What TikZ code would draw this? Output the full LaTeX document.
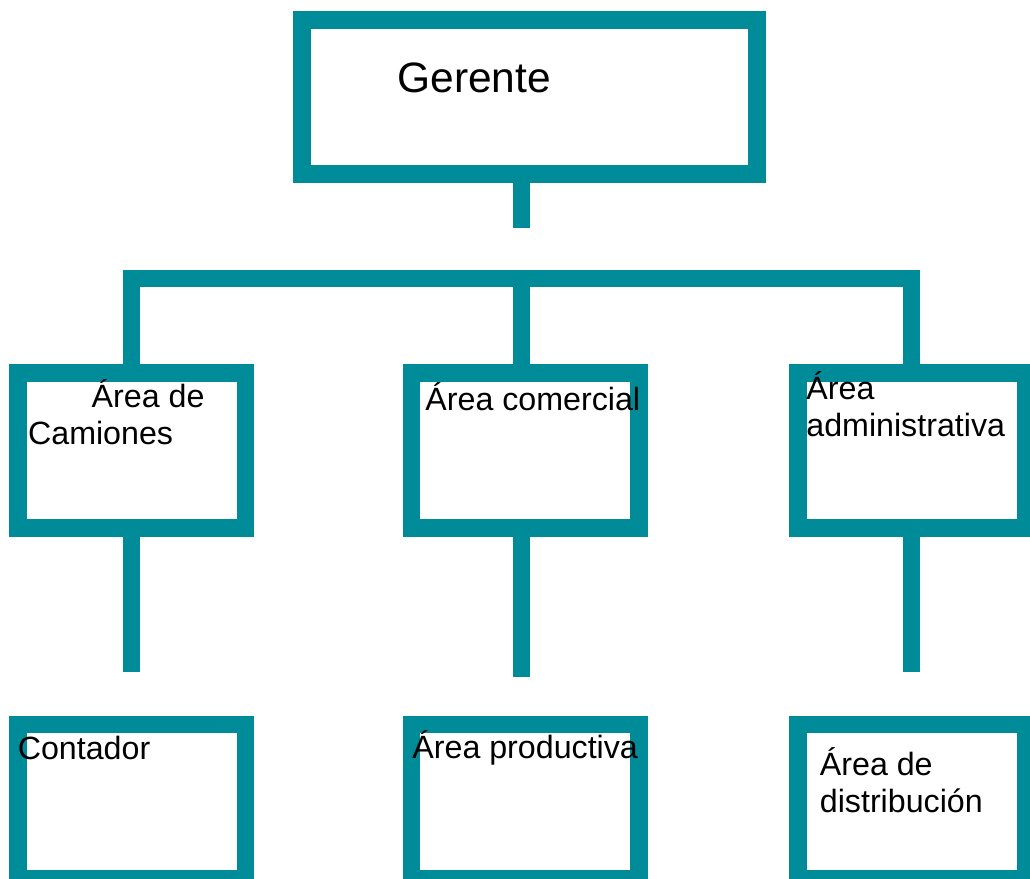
\documentclass[tikz,border=0pt]{standalone}
\usepackage{fontspec}
\setmainfont{Liberation Sans}
\definecolor{orgteal}{HTML}{008B99}
\begin{document}
\begin{tikzpicture}[x=0.5pt,y=-0.5pt,
  unit/.style={draw=orgteal, line width=8.85pt, minimum width=113.65pt, minimum height=77.3pt, inner sep=0pt},
  link/.style={draw=orgteal, line width=8.5pt},
  lbl/.style={anchor=base west, inner sep=0pt, align=left, font=\fontsize{16.1}{18.5}\selectfont}]
\clip (0,0) rectangle (1030,879);
\node[unit, minimum width=227.35pt, minimum height=77.1pt] (gerente) at (529.5,97.1){};
\node[unit] (camiones) at (131.8,450.5){};
\node[unit] (comercial) at (525.2,450.5){};
\node[unit] (admin) at (911.9,450.5){};
\node[unit] (contador) at (131.8,801.7){};
\node[unit] (productiva) at (525.2,801.7){};
\node[unit] (distrib) at (911.9,801.7){};
\coordinate (g1) at (521.8,227.7);
\draw[link](gerente.south -| g1) -- (g1);
\coordinate (barl) at (131.8,278.7);
\coordinate (barm) at (521.8,278.7);
\coordinate (barr) at (911.7,278.7);
\draw[link](camiones.north) -- (barl) -- (barr) -- (barr |- admin.north);
\draw[link](barm) -- (barm |- comercial.north);
\coordinate (c1) at (131.8,671.7);
\coordinate (m1) at (521.8,677);
\coordinate (a1) at (911.7,671.7);
\draw[link](camiones.south) -- (c1);
\draw[link](comercial.south -| m1) -- (m1);
\draw[link](admin.south -| a1) -- (a1);
\node[lbl, font=\fontsize{21.25}{25}\selectfont] (tgerente) at (397,92){Gerente};
\node[lbl] (tcamiones) at (27.7,444.3){\hspace*{31.8pt}Área de\\Camiones};
\node[lbl] (tcomercial) at (425,410){Área comercial};
\node[lbl] (tadmin) at (806,436){Área\\administrativa};
\node[lbl] (tcontador) at (17.4,759.3){Contador};
\node[lbl] (tproductiva) at (412,758.7){Área productiva};
\node[lbl] (tdistrib) at (819.5,812.7){Área de\\distribución};
\end{tikzpicture}
\end{document}
